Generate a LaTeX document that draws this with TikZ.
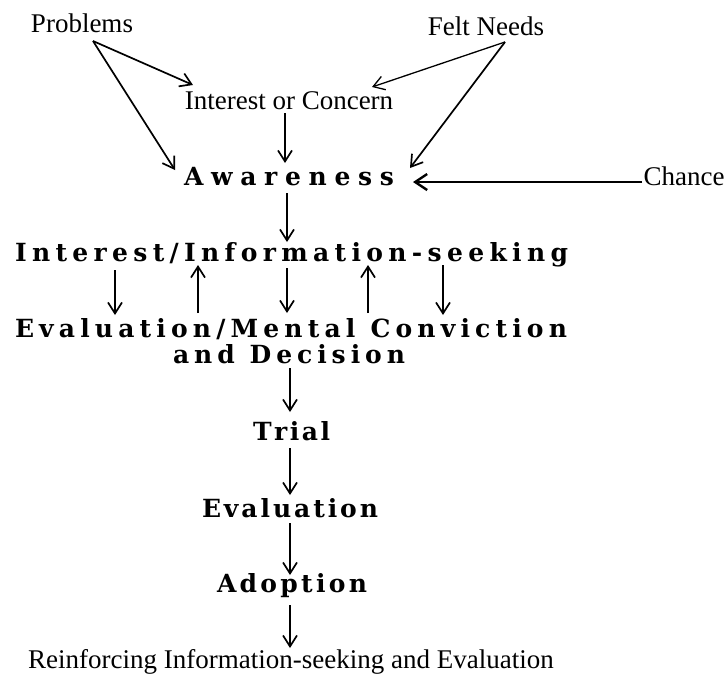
\documentclass[tikz,border=0pt]{standalone}
\usepackage{fontspec}
\setmainfont{Liberation Serif}
\newfontfamily\spfont{DejaVu Serif}
\usetikzlibrary{arrows.meta}
% spread the letters of #2 evenly over a box of width #1
\def\spreadA#1#2{#1\ifx\relax#2\expandafter\spreadstop\else\expandafter\spreadgo\fi{#2}}
\def\spreadstop#1{}
\def\spreadgo#1{\hfill\spreadA{#1}}
\newcommand{\spreadtxt}[2]{\makebox[#1]{\spreadA#2\relax}}
\begin{document}
\begin{tikzpicture}[x=1pt,y=-1pt,
  lbl/.style={font=\fontsize{27}{30}\selectfont, inner sep=0pt, anchor=base},
  sp/.style={font=\spfont\bfseries\fontsize{25}{30}\selectfont, inner sep=0pt, anchor=base},
  arr/.style={-{Straight Barb[length=11pt,width=14pt]}, line width=1.7pt},
  thinarr/.style={-{Straight Barb[length=11pt,width=14pt]}, line width=1.3pt},
  thickarr/.style={-{Straight Barb[length=12pt,width=16pt]}, line width=2.4pt}]
\useasboundingbox (0,0) rectangle (727,673);
\fill[white] (0,0) rectangle (727,673);

\node[lbl] (prob) at (82,32) {Problems};
\node[lbl] (felt) at (486,35) {Felt Needs};
\node[lbl] (ioc) at (289,109) {Interest or Concern};
\node[sp] (aw) at (289,185) {\spreadtxt{210pt}{Awareness}};
\node[lbl] (chance) at (684,185) {Chance};
\node[sp] (iis) at (291.5,261) {\spreadtxt{553pt}{Interest/Information-seeking}};
\node[sp] (emc) at (291,337) {\spreadtxt{552pt}{Evaluation/Menta{l\hspace{.4em}}Conviction}};
\node[sp] (dec) at (289,363) {\spreadtxt{232pt}{an{d\hspace{.4em}}Decision}};
\node[sp] (trial) at (291.5,440) {\spreadtxt{77pt}{Trial}};
\node[sp] (eval) at (290,517) {\spreadtxt{176pt}{Evaluation}};
\node[sp] (adopt) at (292,592) {\spreadtxt{150pt}{Adoption}};
\node[lbl] (reinf) at (291,668) {Reinforcing Information-seeking and Evaluation};

% top diagonal arrows
\draw[arr] ([shift={(11,9)}]prob.base) -- ([shift={(-96,-24)}]ioc.base);
\draw[arr] ([shift={(11,9)}]prob.base) -- ([shift={(-114,-15)}]aw.base);
\draw[thinarr] ([shift={(19,7)}]felt.base) -- ([shift={(83,-22)}]ioc.base);
\draw[arr] ([shift={(19,7)}]felt.base) -- ([shift={(121,-17)}]aw.base);
\draw[thickarr] ([shift={(-42,-3)}]chance.base) -- ([shift={(124,-3)}]aw.base);

% main chain
\draw[arr] ([shift={(-4,4)}]ioc.base) -- ([shift={(-4,-22)}]aw.base);
\draw[arr] ([shift={(-2,8)}]aw.base) -- ([shift={(-4.5,-19)}]iis.base);

% between interest and evaluation
\draw[arr] ([shift={(-176.5,9)}]iis.base) -- ([shift={(-176,-22)}]emc.base);
\draw[arr] ([shift={(-93,-24)}]emc.base) -- ([shift={(-93.5,4)}]iis.base);
\draw[arr] ([shift={(-4.5,7)}]iis.base) -- ([shift={(-4,-24)}]emc.base);
\draw[arr] ([shift={(77,-24)}]emc.base) -- ([shift={(76.5,4)}]iis.base);
\draw[arr] ([shift={(151.5,4)}]iis.base) -- ([shift={(152,-22)}]emc.base);

% lower chain
\draw[arr] ([shift={(1,5)}]dec.base) -- ([shift={(-1.5,-28)}]trial.base);
\draw[arr] ([shift={(-1.5,8)}]trial.base) -- ([shift={(0,-22)}]eval.base);
\draw[arr] ([shift={(0,6)}]eval.base) -- ([shift={(-2,-17)}]adopt.base);
\draw[arr] ([shift={(-2,13)}]adopt.base) -- ([shift={(-1,-20)}]reinf.base);
\end{tikzpicture}
\end{document}
